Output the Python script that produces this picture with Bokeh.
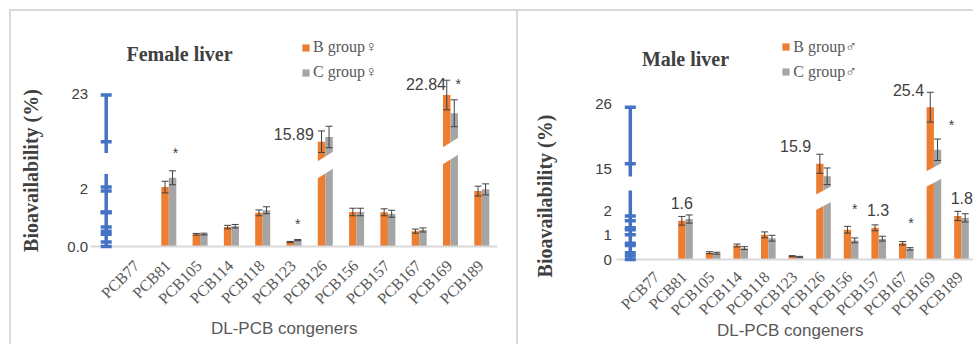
import math
import numpy as np
from bokeh.plotting import figure
from bokeh.models import (ColumnDataSource, Legend, LegendItem, Label, Range1d)
from bokeh.layouts import row
from bokeh.embed import file_html
from bokeh.resources import INLINE
from bokeh.core.properties import value

# ---------------- data ----------------
categories = ["PCB77", "PCB81", "PCB105", "PCB114", "PCB118", "PCB123",
              "PCB126", "PCB156", "PCB157", "PCB167", "PCB169", "PCB189"]

# Female liver (bioavailability %, mean and error)
f_B = [0.0, 2.05, 0.42, 0.67, 1.16, 0.155, 15.89, 1.19, 1.18, 0.53, 22.84, 1.91]
f_C = [0.0, 2.37, 0.43, 0.70, 1.25, 0.22, 16.59, 1.19, 1.13, 0.57, 20.12, 1.97]
f_B_err = [0.0, 0.20, 0.03, 0.06, 0.10, 0.02, 1.60, 0.13, 0.12, 0.07, 2.20, 0.17]
f_C_err = [0.0, 0.24, 0.03, 0.06, 0.12, 0.02, 1.60, 0.13, 0.12, 0.07, 2.00, 0.19]
f_tick_vals = [0.0, 2.0, 23.0]
f_tick_labels = ["0.0", "2", "23"]
f_value_labels = [(6, "15.89"), (10, "22.84")]
f_star_cats = [1, 5, 10]

# Male liver
m_B = [0.0, 1.60, 0.28, 0.58, 1.02, 0.14, 15.9, 1.23, 1.31, 0.67, 25.4, 1.80]
m_C = [0.0, 1.67, 0.26, 0.47, 0.88, 0.11, 13.8, 0.79, 0.86, 0.44, 18.25, 1.72]
m_B_err = [0.0, 0.18, 0.04, 0.06, 0.12, 0.02, 1.60, 0.14, 0.12, 0.07, 2.50, 0.19]
m_C_err = [0.0, 0.17, 0.04, 0.06, 0.12, 0.02, 1.40, 0.10, 0.10, 0.05, 1.80, 0.17]
m_tick_vals = [0.0, 1.0, 2.0, 15.0, 26.0]
m_tick_labels = ["0", "1", "2", "15", "26"]
m_value_labels = [(1, "1.6"), (6, "15.9"), (8, "1.3"), (10, "25.4"), (11, "1.8")]
m_star_cats = [7, 9, 10]

# ---------------- style ----------------
ORANGE = "#ED7D31"
GRAY = "#A5A5A5"
BLUE = "#4472C4"
DARK = "#404040"
MID = "#595959"
SANS = "Liberation Sans"
SERIF = "Liberation Serif"


def make_scale(s_lo, v_ref, h_ref, s_hi, v_split=8.0):
    """Broken axis: linear lower part, linear upper part (pixels above baseline)."""
    def f(v):
        v = np.asarray(v, dtype=float)
        return np.where(v <= v_split, v * s_lo, h_ref + (v - v_ref) * s_hi)
    return f


def build(cfg):
    sc = make_scale(*cfg["scale"])
    n = len(categories)
    w = cfg["bar_w"]
    idx = np.arange(n, dtype=float)
    L, T, W, H = cfg["canvas"]          # canvas box on the page
    x0, s = cfg["x0"], cfg["spacing"]   # page x of category 0, px per category
    base = cfg["baseline"]              # page y of the zero line
    xr = ((L - x0) / s, (L + W - x0) / s)
    yr = (base - (T + H), base - T)
    p = figure(width=W, height=H, x_range=Range1d(*xr), y_range=Range1d(*yr),
               output_backend="svg", toolbar_location=None,
               x_axis_location=None, y_axis_location=None,
               min_border=0)
    p.margin = cfg["margin"]
    p.xgrid.visible = False
    p.ygrid.visible = False
    p.outline_line_color = None
    p.styles = {"border-top": "2px solid #D9D9D9",
                "border-left": "2px solid #D9D9D9"}

    def scr(px, py):
        return px - L, (T + H) - py

    B = np.array(cfg["B"]); C = np.array(cfg["C"])
    Be = np.array(cfg["Be"]); Ce = np.array(cfg["Ce"])
    src = ColumnDataSource(dict(xB=idx - w / 2, xC=idx + w / 2,
                                topB=sc(B), topC=sc(C)))
    rB = p.vbar(x="xB", width=w, top="topB", bottom=0, source=src,
                fill_color=ORANGE, line_color=None)
    rC = p.vbar(x="xC", width=w, top="topC", bottom=0, source=src,
                fill_color=GRAY, line_color=None)

    # error bars
    for xs, v, e in ((idx - w / 2, B, Be), (idx + w / 2, C, Ce)):
        m = e > 0
        lo = sc(v[m] - e[m]); hi = sc(v[m] + e[m])
        p.segment(x0=xs[m], y0=lo, x1=xs[m], y1=hi, line_color=DARK, line_width=1)
        p.scatter(x=np.concatenate([xs[m], xs[m]]), y=np.concatenate([lo, hi]),
                  marker="dash", size=7, line_color=DARK, line_width=1)

    # white break bands across bars that cross the axis break
    pad = cfg["band_pad"]
    xs_l, ys_l = [], []
    for cat, h0 in cfg["breaks"]:
        xl = cat - w - pad; xrr = cat + w + pad
        r, t = cfg["band_rise"], cfg["band_thick"]
        xs_l.append([xl, xrr, xrr, xl])
        ys_l.append([h0, h0 + r, h0 + r + t, h0 + t])
    p.patches(xs_l, ys_l, fill_color="white", line_color=None)

    # category axis (baseline + rotated category labels)
    p.segment(x0=[-1.5], y0=[0], x1=[n - 0.5], y1=[0],
              line_color="#D9D9D9", line_width=2)
    cdx, cdy = cfg["cat_off"]
    p.text(x=idx, y=np.zeros(n), text=categories, x_offset=cdx, y_offset=cdy,
           angle=math.pi / 4, text_align="right", text_baseline="middle",
           text_font=value(SERIF), text_font_size="16px", text_color=MID)

    # blue broken value axis, ticks at the B-group values
    lo_top, hi_bot, top = cfg["axis_ext"]
    p.segment(x0=[-1, -1], y0=[0, float(sc(hi_bot))], x1=[-1, -1],
              y1=[float(sc(lo_top)), float(sc(top))],
              line_color=BLUE, line_width=3.5)
    tk = sc(B)
    p.rect(x=[-1.0] * len(tk), y=tk, width=11, height=3.5,
           width_units="screen", height_units="screen",
           fill_color=BLUE, line_color=None)
    tv = sc(cfg["tick_vals"])
    p.text(x=[-1.0] * len(tv), y=tv, text=cfg["tick_labels"],
           x_offset=cfg["ytick_dx"], text_align="right", text_baseline="middle",
           text_font=value(SANS), text_font_size="15px", text_color=DARK)

    # value labels
    for (cat, txt), (align, dx, dy) in zip(cfg["vlabels"], cfg["vlabel_style"]):
        xx = cat - w if align == "right" else cat - w / 2
        p.text(x=[xx], y=[float(sc(cfg["B"][cat]))], text=[txt],
               x_offset=dx, y_offset=dy, text_align=align,
               text_baseline="middle", text_font=value(SANS),
               text_font_size="16px", text_color=DARK)

    # significance stars
    for cat, (dx, dy) in zip(cfg["stars"], cfg["star_style"]):
        p.text(x=[cat + w / 2], y=[float(sc(cfg["C"][cat]))], text=["*"],
               x_offset=dx, y_offset=dy, text_align="center",
               text_baseline="middle", text_font=value(SANS),
               text_font_size="14px", text_color=DARK)

    legend = Legend(items=[LegendItem(label=cfg["leg"][0], renderers=[rB]),
                           LegendItem(label=cfg["leg"][1], renderers=[rC])],
                    location=scr(*cfg["leg_pos"]), orientation="vertical")
    legend.background_fill_alpha = 0
    legend.border_line_color = None
    legend.padding = 0
    legend.margin = 0
    legend.spacing = 5
    legend.glyph_width = 9
    legend.glyph_height = 9
    legend.label_standoff = 3
    legend.label_height = 20
    legend.label_text_font = SERIF
    legend.label_text_font_size = "16px"
    legend.label_text_color = MID
    p.add_layout(legend)

    tx, ty = scr(*cfg["title_pos"])
    p.add_layout(Label(x=tx, y=ty, x_units="screen", y_units="screen",
                       text=cfg["title"], text_font=SERIF, text_font_style="bold",
                       text_font_size="20px", text_color=DARK,
                       text_align="center", text_baseline="middle"))
    yx, yy = scr(*cfg["ylab_pos"])
    p.add_layout(Label(x=yx, y=yy, x_units="screen", y_units="screen",
                       text="Bioavailability (%)", angle=math.pi / 2,
                       text_font=SERIF, text_font_style="bold",
                       text_font_size="20px", text_color=DARK,
                       text_align="center", text_baseline="middle"))
    lx, ly = scr(*cfg["xlab_pos"])
    p.add_layout(Label(x=lx, y=ly, x_units="screen", y_units="screen",
                       text="DL-PCB congeners", text_font=SANS,
                       text_font_size="17px", text_color=MID,
                       text_align="center", text_baseline="middle"))
    return p


female = dict(canvas=(11, 11, 507, 335), margin=(9, 0, 0, 9),
              x0=137.0, spacing=31.3, baseline=246.0, bar_w=0.24,
              scale=(29.0, 15.89, 104.8, 6.72),
              B=f_B, C=f_C, Be=f_B_err, Ce=f_C_err,
              tick_vals=f_tick_vals, tick_labels=f_tick_labels, ytick_dx=-18,
              axis_ext=(2.5, 14.2, 23.0), cat_off=(-1, 16.5),
              breaks=[(6, 67.5), (10, 81.5)], band_pad=0.04,
              band_rise=11, band_thick=17,
              vlabels=f_value_labels,
              vlabel_style=[("right", -4, -8), ("right", 3, -11)],
              stars=f_star_cats, star_style=[(3, -25), (0, -16), (4, -29)],
              leg=["B group\u2640", "C group\u2640"], leg_pos=(301, 82),
              title="Female liver", title_pos=(179, 53.3),
              ylab_pos=(30.7, 170), xlab_pos=(283.7, 328))

male = dict(canvas=(520, 11, 457, 335), margin=(9, 0, 0, 0),
            x0=659.4, spacing=27.6, baseline=259.0, bar_w=0.265,
            scale=(24.2, 15.9, 95.7, 5.96),
            B=m_B, C=m_C, Be=m_B_err, Ce=m_C_err,
            tick_vals=m_tick_vals, tick_labels=m_tick_labels, ytick_dx=-18.4,
            axis_ext=(2.85, 13.77, 25.5), cat_off=(-1.5, 14.7),
            breaks=[(6, 49), (10, 72.3)], band_pad=0.04,
            band_rise=9, band_thick=15.5,
            vlabels=m_value_labels,
            vlabel_style=[("center", 0, -18), ("right", -5, -18),
                          ("center", 3, -18), ("right", -2.5, -17),
                          ("center", 4, -18)],
            stars=m_star_cats, star_style=[(0, -31), (1, -26), (14, -25)],
            leg=["B group\u2642", "C group\u2642"], leg_pos=(783.3, 81.7),
            title="Male liver", title_pos=(687, 58.3),
            ylab_pos=(546.7, 195.5), xlab_pos=(791.7, 330))

layout = row(build(female), build(male))
open("out.html", "w").write(file_html(layout, INLINE))
